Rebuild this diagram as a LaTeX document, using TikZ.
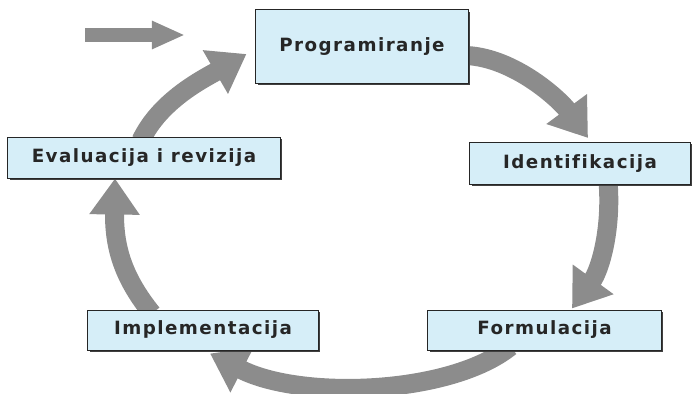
\documentclass[tikz,border=0pt]{standalone}
\usepackage{fontspec}
\newfontfamily\boxfont{DejaVu Sans}[LetterSpace=8, Ligatures=NoCommon]
\usepackage{tikz}
\usetikzlibrary{arrows.meta}
\usetikzlibrary{positioning,calc,shapes,shadows}
\definecolor{flowgray}{HTML}{8C8C8C}
\definecolor{stagefill}{HTML}{D6EEF8}
\pgfdeclarelayer{bg}
\pgfsetlayers{bg,main}
\tikzset{
    stage/.style={
        draw=black!85,
        rectangle,
        fill=stagefill,
        line width=0.7pt,
        inner sep=0pt,
        drop shadow={shadow xshift=1.1pt, shadow yshift=-1.1pt, fill=black!75, opacity=1},
        font=\boxfont\bfseries\fontsize{13}{15}\selectfont,
        text=black!85
    },
    flow/.style={
        draw=flowgray,
        line width=0.475cm,
        -{Triangle[length=0.9cm, width=1.2cm]}
    }
}

\begin{document}
\begin{tikzpicture}[x=0.025cm, y=-0.025cm]
    \useasboundingbox (0,0) rectangle (692,394);

    % Stages
    \node[stage, minimum width=5.3cm, minimum height=1.825cm] (prog) at (362,46.5) {Programiranje};
    \node[stage, minimum width=5.5cm, minimum height=1.05cm] (ident) at (580,163.5) {Identifikacija};
    \node[stage, minimum width=5.825cm, minimum height=1cm] (form) at (544.5,330) {Formulacija};
    \node[stage, minimum width=5.75cm, minimum height=1cm] (impl) at (203,330) {Implementacija};
    \node[stage, minimum width=6.8cm, minimum height=1.025cm] (eval) at (144,157.5) {Evaluacija i revizija};

    % Entry arrow
    \coordinate (entry) at (85,35);
    \coordinate (entrytip) at (185,35);
    \draw[draw=flowgray, line width=0.35cm, -{Triangle[length=0.825cm, width=0.65cm]}] (entry) -- (entrytip);

    % Cycle
    \begin{pgfonlayer}{bg}
        \draw[flow] ($(prog.east)+(-2,9)$) .. controls (515,58) and (560,100) .. ($(ident.north)+(8,-4)$);
        \draw[flow] ($(ident.south)+(28,-4)$) .. controls (612,230) and (600,270) .. ($(form.north)+(27.5,-1)$);
        \draw[flow] ($(form.south)+(-34,-4)$) .. controls (450,395) and (300,400) .. ($(impl.south)+(7,3)$);
        \draw[flow] ($(impl.north)+(-51,4)$) .. controls (125,280) and (114,250) .. ($(eval.south)+(-29,0)$);
        \draw[flow] ($(eval.north)+(-3,4)$) .. controls (160,100) and (205,78) .. ($(prog.west)+(-9,7.5)$);
    \end{pgfonlayer}
\end{tikzpicture}
\end{document}
